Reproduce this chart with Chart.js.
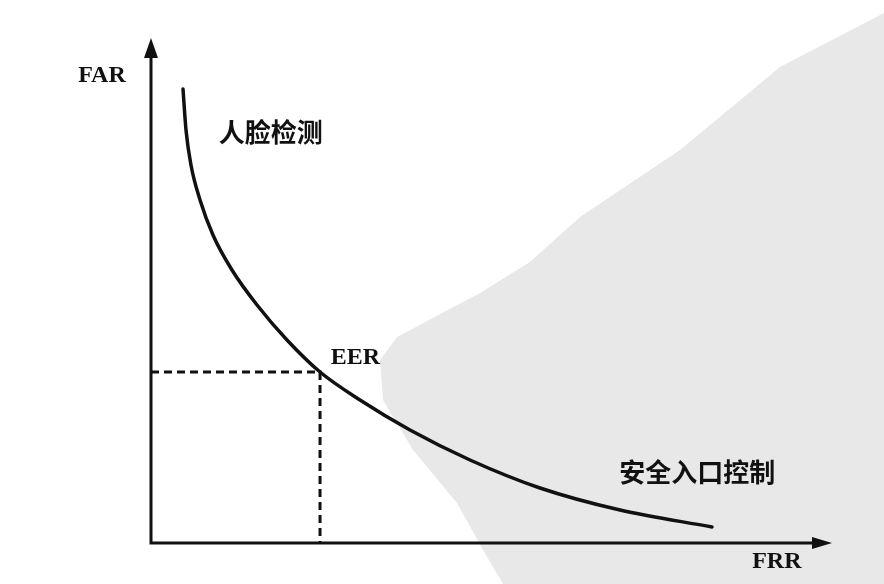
<!DOCTYPE html>
<html>
<head>
<meta charset="utf-8">
<script src="https://cdn.jsdelivr.net/npm/chart.js@4"></script>
<style>
  html, body { margin: 0; padding: 0; background: #fff; }
  #wrap { width: 884px; height: 584px; }
</style>
</head>
<body>
<div id="wrap"><canvas id="c" width="884" height="584"></canvas></div>
<script>
// FAR/FRR trade-off curve (0..100 on both axes)
const frr = [4.70, 5.14, 5.87, 7.20, 9.10, 11.89, 15.57, 19.97, 24.82, 30.69, 38.03, 46.84, 57.12, 68.87, 82.38];
const far = [89.90, 81.78, 74.85, 67.92, 60.99, 54.06, 47.13, 40.20, 33.86, 28.32, 22.38, 16.44, 10.89, 6.53, 3.17];

// equal error rate point
const eerX = 24.82;
const eerY = 33.86;

// text labels: [text, x, y]
const axisLabels = [['FAR', -7.2, 92.5], ['FRR', 91.9, -3.8]];
const curveLabels = [['人脸检测', 17.6, 81.4], ['EER', 30.0, 36.6], ['安全入口控制', 80.2, 14.1]];

const curve = frr.map((x, i) => ({ x: x, y: far[i] }));
const eerGuide = [{ x: 0, y: eerY }, { x: eerX, y: eerY }, { x: eerX, y: 0 }];

// grey scanned-page watermark behind the plot
const watermark = {
  id: 'watermark',
  beforeDraw(chart) {
    const ctx = chart.ctx;
    const pts = [[884,13],[780,67],[680,150],[580,217],[530,262],[480,293],[397,337],
                 [380,360],[383,400],[413,450],[457,503],[483,550],[503,584],[884,584]];
    ctx.save();
    ctx.fillStyle = '#e8e8e8';
    ctx.beginPath();
    pts.forEach((p, i) => i ? ctx.lineTo(p[0], p[1]) : ctx.moveTo(p[0], p[1]));
    ctx.closePath();
    ctx.fill();
    ctx.restore();
  }
};

// axes with arrow heads + labels
const axesAndText = {
  id: 'axesAndText',
  afterDatasetsDraw(chart) {
    const ctx = chart.ctx;
    const a = chart.chartArea;
    const sx = chart.scales.x, sy = chart.scales.y;
    ctx.save();
    ctx.strokeStyle = '#111';
    ctx.fillStyle = '#111';
    ctx.lineWidth = 3;
    ctx.beginPath();
    ctx.moveTo(a.left, a.top + 14);
    ctx.lineTo(a.left, a.bottom);
    ctx.lineTo(a.right - 14, a.bottom);
    ctx.stroke();
    // y arrow
    ctx.beginPath();
    ctx.moveTo(a.left, a.top);
    ctx.lineTo(a.left - 7, a.top + 20);
    ctx.lineTo(a.left + 7, a.top + 20);
    ctx.closePath();
    ctx.fill();
    // x arrow
    ctx.beginPath();
    ctx.moveTo(a.right, a.bottom);
    ctx.lineTo(a.right - 20, a.bottom - 6);
    ctx.lineTo(a.right - 20, a.bottom + 6);
    ctx.closePath();
    ctx.fill();

    ctx.textAlign = 'center';
    ctx.textBaseline = 'middle';
    ctx.font = 'bold 24px "Liberation Serif", serif';
    axisLabels.concat([curveLabels[1]]).forEach(l => {
      ctx.fillText(l[0], sx.getPixelForValue(l[1]), sy.getPixelForValue(l[2]));
    });
    ctx.font = 'bold 26px "Noto Sans CJK SC", sans-serif';
    [curveLabels[0], curveLabels[2]].forEach(l => {
      ctx.fillText(l[0], sx.getPixelForValue(l[1]), sy.getPixelForValue(l[2]));
    });
    ctx.restore();
  }
};

new Chart(document.getElementById('c').getContext('2d'), {
  type: 'scatter',
  data: {
    datasets: [
      {
        data: curve,
        showLine: true,
        borderColor: '#111',
        borderWidth: 3.5,
        cubicInterpolationMode: 'monotone',
        pointRadius: 0,
        borderCapStyle: 'round'
      },
      {
        data: eerGuide,
        showLine: true,
        borderColor: '#111',
        borderWidth: 3,
        borderDash: [8, 5],
        pointRadius: 0
      }
    ]
  },
  options: {
    responsive: false,
    animation: false,
    layout: { padding: { left: 151, right: 52, top: 38, bottom: 41 } },
    plugins: { legend: { display: false }, tooltip: { enabled: false } },
    scales: {
      x: { type: 'linear', min: 0, max: 100, display: false },
      y: { type: 'linear', min: 0, max: 100, display: false }
    }
  },
  plugins: [watermark, axesAndText]
});
</script>
</body>
</html>
